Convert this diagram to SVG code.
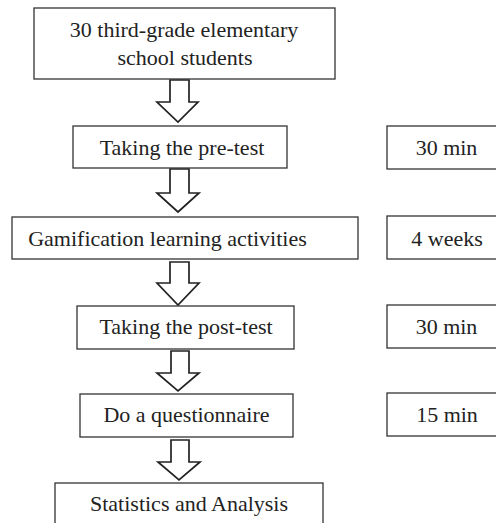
<svg xmlns="http://www.w3.org/2000/svg" width="496" height="523" viewBox="0 0 496 523">
<style>
.box{fill:#fff;stroke:#333;stroke-width:1.3}
.arr{fill:#fff;stroke:#222;stroke-width:1.7;stroke-linejoin:miter}
</style>
<rect width="496" height="523" fill="#fff"/>
<g id="connectors">
<polygon class="arr" points="170,80 189,80 189,102 198,102 178,122 157,102 170,102"/>
<polygon class="arr" points="170,169 189,169 189,193 199,193 178,212 157,193 170,193"/>
<polygon class="arr" points="170,262 189,262 189,283 199,283 178,305 157,283 170,283"/>
<polygon class="arr" points="171,351 189,351 189,373 199,373 178,391 157,373 171,373"/>
<polygon class="arr" points="171,440 189,440 189,462 200,462 179,480 158,462 171,462"/>
</g>
<g font-family="Liberation Serif, Times New Roman, serif" font-size="22" fill="#222" text-anchor="middle">
<g id="n1"><rect class="box" x="34" y="8" width="301" height="71"/>
<text x="184" y="37">30 third-grade elementary</text>
<text x="185" y="65">school students</text></g>
<g id="n2"><rect class="box" x="73" y="126" width="214" height="42"/>
<text x="182" y="155">Taking the pre-test</text></g>
<g id="t1"><rect class="box" x="387" y="126" width="130" height="43"/>
<text x="446.5" y="155">30 min</text></g>
<g id="n3"><rect class="box" x="12" y="217" width="346" height="42"/>
<text x="167.5" y="246">Gamification learning activities</text></g>
<g id="t2"><rect class="box" x="387" y="216" width="130" height="43"/>
<text x="447" y="246">4 weeks</text></g>
<g id="n4"><rect class="box" x="77" y="306" width="217" height="43"/>
<text x="186" y="334">Taking the post-test</text></g>
<g id="t3"><rect class="box" x="387" y="305" width="130" height="43"/>
<text x="446.5" y="334">30 min</text></g>
<g id="n5"><rect class="box" x="80" y="394" width="213" height="43"/>
<text x="186.5" y="422">Do a questionnaire</text></g>
<g id="t4"><rect class="box" x="387" y="393" width="130" height="43"/>
<text x="447" y="422">15 min</text></g>
<g id="n6"><rect class="box" x="55" y="483" width="268" height="60"/>
<text x="189" y="511">Statistics and Analysis</text></g>
</g>
</svg>
